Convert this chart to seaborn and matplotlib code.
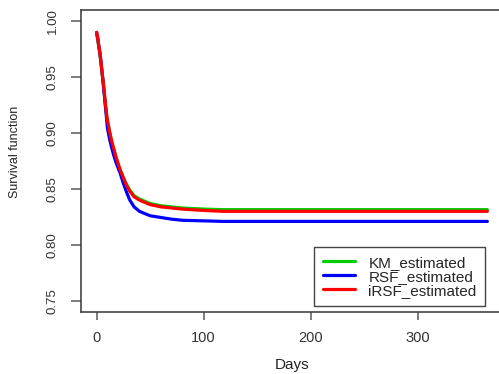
import pandas as pd
import matplotlib
matplotlib.use("Agg")
import matplotlib.pyplot as plt
import seaborn as sns

# values
days = [0, 1, 2, 3, 4, 5, 6, 7, 8, 9, 10, 12, 14, 16, 18, 20, 22, 25, 28, 31,
        35, 40, 45, 50, 60, 70, 80, 100, 118, 365]
km_estimated = [0.988, 0.984, 0.977, 0.971, 0.963, 0.954, 0.946, 0.937, 0.927, 0.918,
                0.911, 0.901, 0.892, 0.885, 0.878, 0.872, 0.867, 0.860, 0.854, 0.849,
                0.844, 0.841, 0.839, 0.837, 0.835, 0.834, 0.833, 0.832, 0.8315, 0.8315]
rsf_estimated = [0.990, 0.985, 0.978, 0.972, 0.964, 0.955, 0.946, 0.936, 0.926, 0.916,
                 0.905, 0.895, 0.887, 0.880, 0.874, 0.869, 0.864, 0.855, 0.847, 0.840,
                 0.834, 0.830, 0.828, 0.826, 0.8245, 0.823, 0.822, 0.8215, 0.821, 0.821]
irsf_estimated = [0.990, 0.985, 0.978, 0.972, 0.964, 0.955, 0.947, 0.938, 0.928, 0.919,
                  0.912, 0.902, 0.893, 0.886, 0.879, 0.873, 0.867, 0.860, 0.853, 0.848,
                  0.843, 0.840, 0.838, 0.836, 0.834, 0.833, 0.832, 0.8308, 0.830, 0.830]
series = ["KM_estimated", "RSF_estimated", "iRSF_estimated"]
colors = ["#00CD00", "#0000FF", "#FF0000"]

df = pd.concat([
    pd.DataFrame({"Days": days, "Survival": km_estimated, "Model": series[0]}),
    pd.DataFrame({"Days": days, "Survival": rsf_estimated, "Model": series[1]}),
    pd.DataFrame({"Days": days, "Survival": irsf_estimated, "Model": series[2]}),
])

sns.set_style("white")
plt.rcParams["font.family"] = ["Liberation Sans", "DejaVu Sans"]

fig = plt.figure(figsize=(4.99, 3.74), dpi=100)
ax = fig.add_axes([81 / 499, 62 / 374, 422 / 499, 302 / 374])

sns.lineplot(df, x="Days", y="Survival", hue="Model", palette=colors,
             linewidth=2.3, ax=ax, legend=False)

ax.set_xlim(-14.6, 379.6)
ax.set_ylim(0.74, 1.01)
ax.set_xticks([0, 100, 200, 300])
ax.set_yticks([0.75, 0.80, 0.85, 0.90, 0.95, 1.00])
ax.set_yticklabels(["0.75", "0.80", "0.85", "0.90", "0.95", "1.00"],
                   rotation=90, va="center")

for s in ["left", "bottom", "top"]:
    ax.spines[s].set_color("#444444")
    ax.spines[s].set_linewidth(1.2)
ax.spines["right"].set_visible(False)

ax.tick_params(axis="x", length=5.5, width=1.2, color="#666666", pad=8,
               labelsize=10.5, labelcolor="#333333")
ax.tick_params(axis="y", length=7.2, width=1.2, color="#666666", pad=9,
               labelsize=9.5, labelcolor="#333333")
ax.tick_params(left=True, bottom=True)

ax.set_xlabel("Days", fontsize=11, color="#222222")
ax.set_ylabel("Survival function", fontsize=9, color="#222222")
ax.xaxis.set_label_coords(0.5, -0.152)
ax.yaxis.set_label_coords(-0.142, 0.53)

handles = [plt.Line2D([], [], color=c, linewidth=2.3) for c in colors]
leg = ax.legend(handles, series, loc="lower right",
                bbox_to_anchor=(485 / 499, 68 / 374), bbox_transform=fig.transFigure,
                borderaxespad=0, fancybox=False, framealpha=1, fontsize=11,
                labelspacing=0.0, handlelength=2.1, handletextpad=0.9,
                borderpad=0.55)
leg.get_frame().set_edgecolor("#444444")
leg.get_frame().set_linewidth(1.0)

fig.savefig("out.png", dpi=100)
